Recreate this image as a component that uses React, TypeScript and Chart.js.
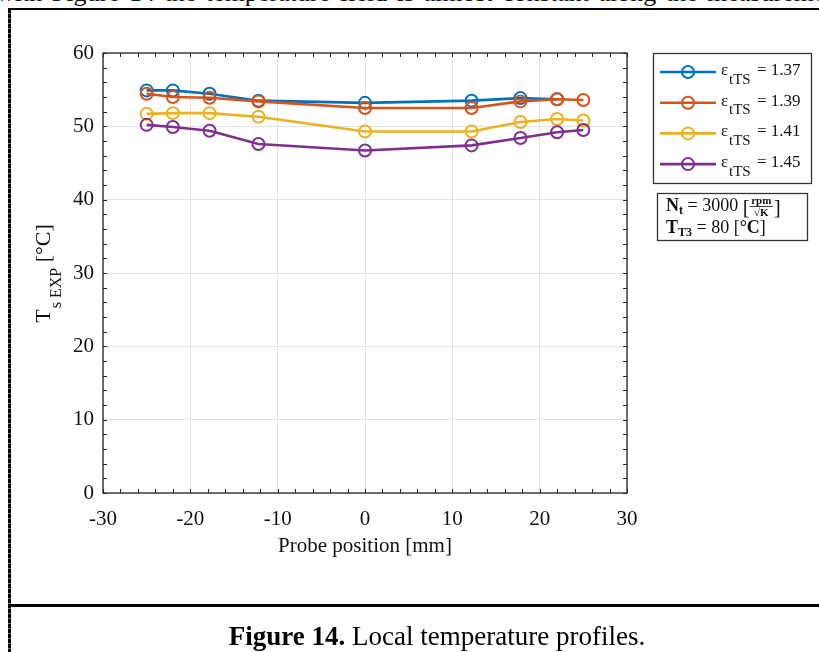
import React, { useEffect, useRef } from "react";
import { Chart, registerables } from "chart.js";

Chart.register(...registerables);

// ---------- data ----------
const probePositions = [-25, -22, -17.8, -12.2, 0, 12.2, 17.8, 22, 25];
const eps137 = [54.9, 54.9, 54.45, 53.5, 53.2, 53.5, 53.85, 53.7];
const eps139 = [54.45, 54.0, 53.9, 53.4, 52.5, 52.5, 53.4, 53.7, 53.6];
const eps141 = [51.7, 51.8, 51.8, 51.3, 49.3, 49.3, 50.6, 51.0, 50.8];
const eps145 = [50.2, 49.9, 49.4, 47.6, 46.7, 47.4, 48.4, 49.2, 49.5];
const seriesLabels = ["1.37", "1.39", "1.41", "1.45"];
const seriesColors = ["#0072BD", "#D95319", "#EDB120", "#7E2F8E"];
const xTickValues = [-30, -20, -10, 0, 10, 20, 30];
const yTickValues = [0, 10, 20, 30, 40, 50, 60];

const SERIF = "'Liberation Serif', 'Times New Roman', serif";
const AXIS_COLOR = "#262626";

const allSeries = [eps137, eps139, eps141, eps145];

type Run = { t: string; font: string; dy?: number };

function drawRuns(ctx: CanvasRenderingContext2D, runs: Run[], x: number, y: number) {
  let cx = x;
  runs.forEach((r) => {
    ctx.font = r.font;
    ctx.fillText(r.t, cx, y + (r.dy || 0));
    cx += ctx.measureText(r.t).width;
  });
  return cx;
}

const overlayPlugin = {
  id: "overlay",
  afterDraw(chart: any) {
    const ctx = chart.ctx as CanvasRenderingContext2D;
    const a = chart.chartArea;
    const xs = chart.scales.x;
    const ys = chart.scales.y;
    ctx.save();
    // axes box
    ctx.strokeStyle = AXIS_COLOR;
    ctx.lineWidth = 1.3;
    ctx.strokeRect(a.left, a.top, a.right - a.left, a.bottom - a.top);
    // inside ticks (major + minor every 2)
    const tl = 4;
    ctx.lineWidth = 1;
    ctx.beginPath();
    for (let v = -30; v <= 30; v += 2) {
      const px = Math.round(xs.getPixelForValue(v)) + 0.5;
      ctx.moveTo(px, a.bottom);
      ctx.lineTo(px, a.bottom - tl);
      ctx.moveTo(px, a.top);
      ctx.lineTo(px, a.top + tl);
    }
    for (let v = 0; v <= 60; v += 2) {
      const py = Math.round(ys.getPixelForValue(v)) + 0.5;
      ctx.moveTo(a.left, py);
      ctx.lineTo(a.left + tl, py);
      ctx.moveTo(a.right, py);
      ctx.lineTo(a.right - tl, py);
    }
    ctx.stroke();

    // x title
    ctx.fillStyle = "#111";
    ctx.font = `21px ${SERIF}`;
    ctx.textAlign = "center";
    ctx.textBaseline = "alphabetic";
    ctx.fillText("Probe position [mm]", (a.left + a.right) / 2, 552);

    // y title (rotated, with subscript)
    ctx.save();
    ctx.translate(50, 274);
    ctx.rotate(-Math.PI / 2);
    ctx.textAlign = "left";
    ctx.font = `22px ${SERIF}`;
    const wT = ctx.measureText("T").width;
    const wC = ctx.measureText(" [°C]").width;
    ctx.font = `16px ${SERIF}`;
    const wS = ctx.measureText("s EXP").width;
    const start = -(wT + wS + wC) / 2;
    ctx.font = `22px ${SERIF}`;
    ctx.fillText("T", start, 0);
    ctx.font = `16px ${SERIF}`;
    ctx.fillText("s EXP", start + wT + 1, 11);
    ctx.font = `22px ${SERIF}`;
    ctx.fillText(" [°C]", start + wT + wS + 1, 0);
    ctx.restore();

    // legend box
    ctx.fillStyle = "#fff";
    ctx.fillRect(653, 53, 159, 131);
    ctx.strokeStyle = "#333";
    ctx.lineWidth = 1.3;
    ctx.strokeRect(653.5, 53.5, 158, 130);
    ctx.textAlign = "left";
    seriesLabels.forEach((lab, i) => {
      const cy = 72 + i * 30.7;
      ctx.strokeStyle = seriesColors[i];
      ctx.lineWidth = 2.6;
      ctx.beginPath();
      ctx.moveTo(660, cy);
      ctx.lineTo(716, cy);
      ctx.stroke();
      ctx.beginPath();
      ctx.arc(688, cy, 6, 0, Math.PI * 2);
      ctx.lineWidth = 2;
      ctx.stroke();
      ctx.fillStyle = "#111";
      ctx.font = `17px ${SERIF}`;
      ctx.fillText("ε", 721, cy + 3);
      ctx.font = `15px ${SERIF}`;
      ctx.fillText("tTS", 729, cy + 11.5);
      ctx.font = `17px ${SERIF}`;
      ctx.fillText("= " + lab, 757, cy + 3);
    });

    // annotation box
    ctx.fillStyle = "#fff";
    ctx.fillRect(657, 193, 151, 48);
    ctx.strokeStyle = "#333";
    ctx.lineWidth = 1.3;
    ctx.strokeRect(657.5, 193.5, 150, 47);
    ctx.fillStyle = "#111";
    const B = `bold 18px ${SERIF}`;
    const R = `18px ${SERIF}`;
    const BS = `bold 12px ${SERIF}`;
    // line 1
    const cx = drawRuns(
      ctx,
      [
        { t: "N", font: B },
        { t: "t", font: BS, dy: 3 },
        { t: " = 3000 ", font: R },
        { t: "[", font: `21px ${SERIF}`, dy: 3 },
      ],
      666,
      211
    );
    ctx.font = `bold 11px ${SERIF}`;
    const fw = ctx.measureText("rpm").width + 3;
    ctx.textAlign = "center";
    ctx.fillText("rpm", cx + fw / 2, 204);
    ctx.fillText("√K", cx + fw / 2, 216);
    ctx.textAlign = "left";
    ctx.strokeStyle = "#111";
    ctx.lineWidth = 0.8;
    ctx.beginPath();
    ctx.moveTo(cx, 206.5);
    ctx.lineTo(cx + fw, 206.5);
    ctx.stroke();
    ctx.font = `21px ${SERIF}`;
    ctx.fillText("]", cx + fw + 1, 214);
    // line 2
    drawRuns(
      ctx,
      [
        { t: "T", font: B },
        { t: "T3", font: BS, dy: 3 },
        { t: " = 80 [", font: R },
        { t: "°C", font: B },
        { t: "]", font: R },
      ],
      666,
      233
    );

    ctx.restore();
  },
};

export default function App() {
  const canvasRef = useRef<HTMLCanvasElement | null>(null);

  useEffect(() => {
    document.body.style.margin = "0";
    const canvas = canvasRef.current;
    if (!canvas) return;
    const datasets = allSeries.map((vals, i) => ({
      label: "εtTS = " + seriesLabels[i],
      data: vals.map((v, j) => ({ x: probePositions[j], y: v })),
      borderColor: seriesColors[i],
      backgroundColor: "rgba(0,0,0,0)",
      pointBorderColor: seriesColors[i],
      pointBackgroundColor: "rgba(0,0,0,0)",
      borderWidth: 2.6,
      pointRadius: 6,
      pointBorderWidth: 2,
      showLine: true,
      tension: 0,
      order: 3 - i,
    }));
    const chart = new Chart(canvas, {
      type: "scatter",
      data: { datasets },
      options: {
        responsive: false,
        animation: false,
        devicePixelRatio: 1,
        layout: { padding: { left: 53, right: 192, top: 53, bottom: 119 } },
        plugins: {
          legend: { display: false },
          tooltip: { enabled: false },
        },
        scales: {
          x: {
            type: "linear",
            min: -30,
            max: 30,
            afterBuildTicks: (scale: any) => {
              scale.ticks = xTickValues.map((v) => ({ value: v }));
            },
            afterFit: (scale: any) => {
              scale.height = 40;
            },
            ticks: {
              font: { family: SERIF, size: 21 },
              color: "#111",
              padding: 14,
              maxRotation: 0,
              autoSkip: false,
            },
            grid: { color: "#e3e3e3", lineWidth: 1, drawTicks: false },
            border: { display: false },
          },
          y: {
            type: "linear",
            min: 0,
            max: 60,
            afterBuildTicks: (scale: any) => {
              scale.ticks = yTickValues.map((v) => ({ value: v }));
            },
            afterFit: (scale: any) => {
              scale.width = 50;
            },
            ticks: {
              font: { family: SERIF, size: 21 },
              color: "#111",
              padding: 9,
              autoSkip: false,
            },
            grid: { color: "#e3e3e3", lineWidth: 1, drawTicks: false },
            border: { display: false },
          },
        },
      },
      plugins: [overlayPlugin],
    } as any);
    return () => chart.destroy();
  }, []);

  return (
    <div style={{ position: "relative", width: 819, height: 652, overflow: "hidden", background: "#fff", fontFamily: SERIF }}>
      <div style={{ position: "absolute", left: -4, top: -22, fontSize: 26, wordSpacing: 3, whiteSpace: "nowrap", color: "#111" }}>
        with Figure 14 the temperature field is almost constant along the measurement
      </div>
      <div style={{ position: "absolute", left: 8, top: 8, width: 811, height: 2, background: "#000" }} />
      <div
        style={{
          position: "absolute",
          left: 8,
          top: 9,
          width: 3,
          height: 643,
          background: "repeating-linear-gradient(to bottom, #000 0px, #000 4px, #777 4px, #777 5px)",
        }}
      />
      <div style={{ position: "absolute", left: 9, top: 604, width: 810, height: 3, background: "#000" }} />
      <canvas ref={canvasRef} width={819} height={652} style={{ position: "absolute", left: 0, top: 0, width: 819, height: 652 }} />
      <div style={{ position: "absolute", left: 0, top: 621, width: 874, textAlign: "center", fontSize: 27, color: "#000", whiteSpace: "nowrap" }}>
        <b>Figure 14.</b> Local temperature profiles.
      </div>
    </div>
  );
}
